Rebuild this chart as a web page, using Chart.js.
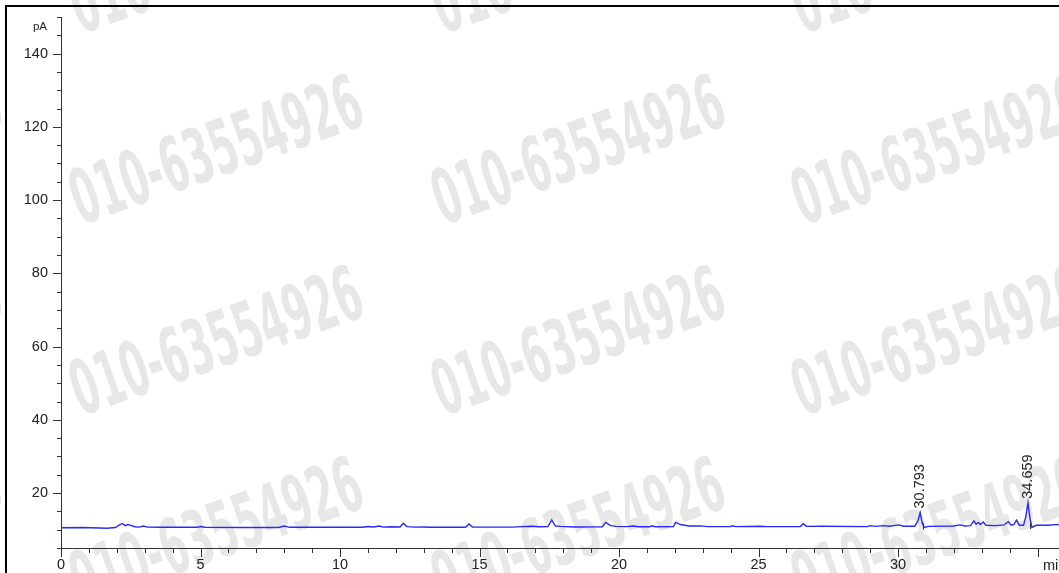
<!DOCTYPE html>
<html lang="en">

<head>
    <meta charset="UTF-8">
    <title>Chromatogram</title>
    <style>
        html, body {
            margin: 0;
            padding: 0;
            background: #fff;
            overflow: hidden;
        }

        .wrap {
            position: relative;
            width: 1059px;
            height: 573px;
        }

        .frame {
            position: absolute;
            left: 5px;
            top: 5px;
            width: 1100px;
            height: 600px;
            border-left: 2px solid #000;
            border-top: 2px solid #000;
            pointer-events: none;
        }
    </style>
</head>

<body>
    <div class="wrap">
        <canvas id="chrom"></canvas>
        <div class="frame"></div>
    </div>
    <script src="https://cdn.jsdelivr.net/npm/chart.js"></script>
    <script>
        // retention time (min) and detector signal (pA)
        const times = [0, 0.8, 1.65, 1.95, 2.1, 2.2, 2.3, 2.4, 2.5, 2.65, 2.8, 2.95, 3.1, 3.6, 4.9, 5.0, 5.15, 6.5, 7.8, 8.0, 8.2, 9.5,
            10.8, 11.0, 11.2, 11.4, 11.55, 11.8, 12.15, 12.27, 12.4, 12.7, 13.0, 13.2, 14.5, 14.62, 14.75, 16.2, 16.5, 16.9, 17.1,
            17.45, 17.59, 17.72, 17.9, 18.4, 19.4, 19.52, 19.7, 19.9, 20.3, 20.5, 20.7, 21.1, 21.17, 21.3, 21.95, 22.03, 22.2,
            22.5, 22.9, 23.2, 24.0, 24.05, 24.2, 25.05, 25.3, 26.5, 26.6, 26.72, 27.3, 28.9, 29.0, 29.2, 29.46, 29.7, 30.03,
            30.2, 30.6, 30.72, 30.793, 30.86, 30.93, 31.1, 32.0, 32.22, 32.4, 32.6, 32.72, 32.8, 32.88, 32.95, 33.06, 33.15,
            33.5, 33.8, 33.95, 34.05, 34.15, 34.25, 34.35, 34.5, 34.58, 34.659, 34.73, 34.8, 34.95, 35.4, 35.69, 35.77];
        const signal = [10.55, 10.6, 10.4, 10.6, 11.3, 11.7, 11.1, 11.4, 11.2, 10.8, 10.7, 11.0, 10.7, 10.65, 10.65, 10.85, 10.65, 10.6, 10.6, 11.0, 10.65, 10.65,
            10.65, 10.85, 10.75, 11.0, 10.7, 10.8, 10.75, 11.75, 10.85, 10.7, 10.75, 10.65, 10.65, 11.55, 10.7, 10.7, 10.85, 10.95, 10.8,
            10.85, 12.65, 11.0, 10.9, 10.75, 10.8, 12.0, 11.1, 10.9, 10.85, 11.0, 10.8, 10.8, 11.05, 10.8, 10.85, 12.0, 11.4,
            11.0, 11.05, 10.85, 10.85, 11.05, 10.85, 10.95, 10.85, 10.85, 11.65, 10.9, 10.95, 10.85, 11.1, 10.9, 11.1, 10.95, 11.3,
            10.95, 10.95, 12.5, 14.7, 12.0, 10.6, 10.9, 11.0, 11.3, 11.0, 11.1, 12.4, 11.5, 12.0, 11.4, 12.1, 11.2,
            11.1, 11.3, 12.2, 11.3, 11.4, 12.6, 11.2, 11.2, 13.5, 17.35, 13.0, 10.6, 11.2, 11.2, 11.45, 11.3];

        // labelled peaks
        const peakTimes = [30.793, 34.659];
        const peakLabels = ['30.793', '34.659'];
        const peakHeights = [14.7, 17.35];
        const peakEnds = [30.9, 34.74];
        const peakEndLevels = [10.9, 11.0];

        // axes
        const xMin = 0, xMax = 35.77, xMinor = 1, xMajor = 5;
        const yMin = 5, yMax = 150, yMinor = 5, yMajor = 20;
        const yUnit = 'pA';
        const xUnit = 'min';

        const watermark = '010-63554926';

        const points = times.map((t, i) => ({ x: t, y: signal[i] }));
        const labelFont = '14.5px "Liberation Sans", Arial, sans-serif';

        const watermarkPlugin = {
            id: 'watermark',
            beforeDraw(chart) {
                const ctx = chart.ctx;
                ctx.save();
                ctx.fillStyle = 'rgb(231,231,231)';
                ctx.font = 'bold 76px "Liberation Sans Narrow", "DejaVu Sans Condensed", sans-serif';
                ctx.textAlign = 'center';
                ctx.textBaseline = 'middle';
                const w = ctx.measureText(watermark).width;
                const sx = 304 / w;
                [-143, 218, 580, 940].forEach(cx => {
                    [-35, 156, 347, 538].forEach(cy => {
                        ctx.save();
                        ctx.translate(cx, cy);
                        ctx.rotate(-19.5 * Math.PI / 180);
                        ctx.scale(sx, 1);
                        ctx.fillText(watermark, 0, 0);
                        ctx.restore();
                    });
                });
                ctx.restore();
            }
        };

        const decorPlugin = {
            id: 'decor',
            afterDraw(chart) {
                const ctx = chart.ctx;
                const xs = chart.scales.x, ys = chart.scales.y;
                const left = chart.chartArea.left, bottom = chart.chartArea.bottom;
                ctx.save();
                ctx.strokeStyle = '#333';
                ctx.lineWidth = 1;
                ctx.beginPath();
                for (let v = yMin; v <= yMax; v += yMinor) {
                    const py = Math.round(ys.getPixelForValue(v)) + 0.5;
                    const len = v % yMajor === 0 ? 8 : 4;
                    ctx.moveTo(left - len, py);
                    ctx.lineTo(left, py);
                }
                for (let t = xMin; t <= xMax; t += xMinor) {
                    const px = Math.round(xs.getPixelForValue(t)) + 0.5;
                    const len = t % xMajor === 0 ? 9 : 5;
                    ctx.moveTo(px, bottom);
                    ctx.lineTo(px, bottom + len);
                }
                // baseline markers at peak ends
                peakEnds.forEach((t, i) => {
                    const px = Math.round(xs.getPixelForValue(t)) + 0.5;
                    const py = ys.getPixelForValue(peakEndLevels[i]);
                    ctx.moveTo(px, py - 3);
                    ctx.lineTo(px, py + 3);
                });
                ctx.stroke();

                ctx.fillStyle = '#222';
                ctx.font = '11.5px "Liberation Sans", Arial, sans-serif';
                ctx.textAlign = 'right';
                ctx.textBaseline = 'middle';
                ctx.fillText(yUnit, left - 14, 27);

                ctx.font = labelFont;
                ctx.textAlign = 'left';
                ctx.fillText(xUnit, 1043, 566);

                peakTimes.forEach((t, i) => {
                    const px = xs.getPixelForValue(t);
                    const py = ys.getPixelForValue(peakHeights[i]);
                    ctx.save();
                    ctx.translate(px, py - 4);
                    ctx.rotate(-Math.PI / 2);
                    ctx.textAlign = 'left';
                    ctx.textBaseline = 'middle';
                    ctx.fillText(peakLabels[i], 0, 0);
                    ctx.restore();
                });
                ctx.restore();
            }
        };

        const ctx = document.getElementById('chrom').getContext('2d');
        new Chart(ctx, {
            type: 'line',
            data: {
                datasets: [{
                    label: 'FID',
                    data: points,
                    borderColor: 'rgb(40,40,255)',
                    borderWidth: 1.4,
                    pointRadius: 0,
                    tension: 0,
                    fill: false
                }]
            },
            options: {
                responsive: true,
                maintainAspectRatio: false,
                animation: false,
                events: [],
                layout: { padding: { top: 17, right: 0, left: 0, bottom: 0 } },
                plugins: {
                    legend: { display: false },
                    tooltip: { enabled: false }
                },
                scales: {
                    x: {
                        type: 'linear',
                        min: xMin,
                        max: xMax,
                        afterFit: s => { s.height = 25; s.paddingLeft = 0; s.paddingRight = 0; },
                        grid: { display: false, drawTicks: false },
                        border: { display: true, color: '#333', width: 1 },
                        ticks: {
                            stepSize: xMinor,
                            autoSkip: false,
                            maxRotation: 0,
                            padding: 8,
                            color: '#222',
                            font: { family: '"Liberation Sans", Arial, sans-serif', size: 14.5 },
                            callback: v => (Number.isInteger(v) && v % xMajor === 0 && v < 35) ? String(v) : ''
                        }
                    },
                    y: {
                        min: yMin,
                        max: yMax,
                        afterFit: s => { s.width = 61; s.paddingTop = 0; s.paddingBottom = 0; },
                        grid: { display: false, drawTicks: false },
                        border: { display: true, color: '#333', width: 1 },
                        ticks: {
                            stepSize: yMinor,
                            autoSkip: false,
                            padding: 13,
                            color: '#222',
                            font: { family: '"Liberation Sans", Arial, sans-serif', size: 14.5 },
                            callback: v => (v % yMajor === 0) ? String(v) : ''
                        }
                    }
                }
            },
            plugins: [watermarkPlugin, decorPlugin]
        });
    </script>
</body>

</html>
